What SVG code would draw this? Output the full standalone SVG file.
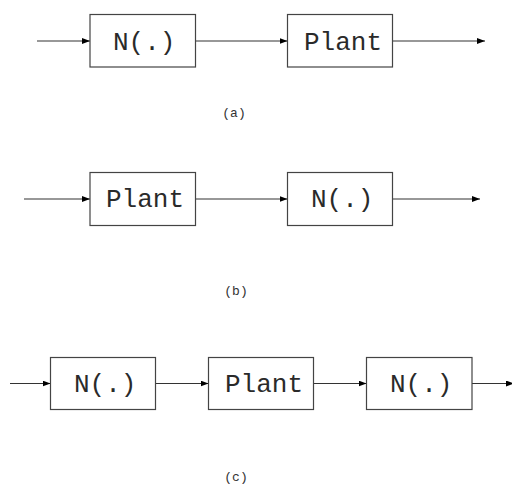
<svg xmlns="http://www.w3.org/2000/svg" width="512" height="486" viewBox="0 0 512 486">
  <style>
    .box { fill: #ffffff; stroke: #444444; stroke-width: 1.2; }
    .lbl { font-family: "Liberation Mono", "Courier New", monospace; font-size: 26px; fill: #2a2a2a; }
    .cap { font-family: "Liberation Mono", "Courier New", monospace; font-size: 13px; fill: #333333; text-anchor: middle; }
    .wire { stroke: #333333; stroke-width: 1.2; fill: none; marker-end: url(#arrow); }
  </style>
  <defs>
    <marker id="arrow" markerUnits="userSpaceOnUse" markerWidth="9" markerHeight="7" refX="8" refY="3" orient="auto">
      <path d="M0,0 L8,3 L0,6 z" fill="#000000"/>
    </marker>
  </defs>

  <rect width="512" height="486" fill="#ffffff"/>

  <!-- connectors -->
  <g id="connectors">
    <!-- (a) -->
    <line class="wire" x1="37" y1="41" x2="90" y2="41"/>
    <line class="wire" x1="195.5" y1="41" x2="287.5" y2="41"/>
    <line class="wire" x1="392.5" y1="41" x2="485" y2="41"/>
    <!-- (b) -->
    <line class="wire" x1="24" y1="199" x2="90" y2="199"/>
    <line class="wire" x1="195.5" y1="199" x2="287.5" y2="199"/>
    <line class="wire" x1="392.5" y1="199" x2="480" y2="199"/>
    <!-- (c) -->
    <line class="wire" x1="10" y1="383.5" x2="50.5" y2="383.5"/>
    <line class="wire" x1="155.5" y1="383.5" x2="208.5" y2="383.5"/>
    <line class="wire" x1="313.5" y1="383.5" x2="366.5" y2="383.5"/>
    <line class="wire" x1="472" y1="383.5" x2="514" y2="383.5"/>
  </g>

  <!-- (a) N(.) then Plant -->
  <g id="a_nonlin">
    <rect class="box" x="90" y="14.5" width="105.5" height="52.5"/>
    <text class="lbl" x="113" y="50">N(.)</text>
  </g>
  <g id="a_plant">
    <rect class="box" x="287.5" y="14.5" width="105" height="52.5"/>
    <text class="lbl" x="304" y="50">Plant</text>
  </g>
  <text class="cap" x="234" y="117">(a)</text>

  <!-- (b) Plant then N(.) -->
  <g id="b_plant">
    <rect class="box" x="90" y="172.5" width="105.5" height="53"/>
    <text class="lbl" x="106" y="207">Plant</text>
  </g>
  <g id="b_nonlin">
    <rect class="box" x="287.5" y="172.5" width="105" height="53"/>
    <text class="lbl" x="311" y="207">N(.)</text>
  </g>
  <text class="cap" x="236" y="295">(b)</text>

  <!-- (c) N(.) then Plant then N(.) -->
  <g id="c_nonlin1">
    <rect class="box" x="50.5" y="357.5" width="105" height="52"/>
    <text class="lbl" x="74" y="392">N(.)</text>
  </g>
  <g id="c_plant">
    <rect class="box" x="208.5" y="357.5" width="105" height="52"/>
    <text class="lbl" x="225" y="392">Plant</text>
  </g>
  <g id="c_nonlin2">
    <rect class="box" x="366.5" y="357.5" width="105.5" height="52"/>
    <text class="lbl" x="390" y="392">N(.)</text>
  </g>
  <text class="cap" x="236" y="481">(c)</text>
</svg>
